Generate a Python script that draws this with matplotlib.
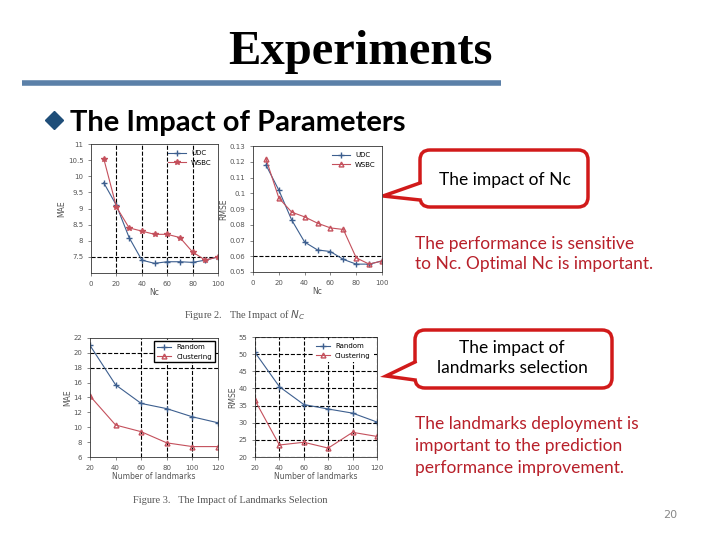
import numpy as np
import matplotlib.pyplot as plt
from matplotlib.patches import FancyBboxPatch, Polygon

# data
nc = [10, 20, 30, 40, 50, 60, 70, 80, 90, 100]
mae_udc = [9.8, 9.1, 8.1, 7.4, 7.3, 7.35, 7.35, 7.33, 7.4, 7.5]
mae_wsbc = [10.55, 9.05, 8.4, 8.3, 8.2, 8.2, 8.1, 7.65, 7.4, 7.5]
rmse_udc = [0.118, 0.102, 0.083, 0.069, 0.064, 0.063, 0.058, 0.055, 0.055, 0.057]
rmse_wsbc = [0.122, 0.097, 0.088, 0.085, 0.081, 0.078, 0.077, 0.059, 0.055, 0.057]

landmarks = [20, 40, 60, 80, 100, 120]
mae_random = [21.0, 15.7, 13.2, 12.5, 11.4, 10.6]
mae_cluster = [14.2, 10.3, 9.4, 7.9, 7.4, 7.4]
rmse_random = [50.5, 40.5, 35.3, 34.0, 32.8, 30.2]
rmse_cluster = [36.5, 23.5, 24.3, 22.6, 27.2, 26.0]

blue = '#3d5f8f'
red = '#c4505c'
gray = '#555555'
box_red = '#d11a1a'
txt_red = '#b8202a'

fig = plt.figure(figsize=(7.2, 5.4), dpi=100)

# overlay in pixel coordinates for the slide decorations
bg = fig.add_axes([0, 0, 1, 1])
bg.set_xlim(0, 720)
bg.set_ylim(540, 0)
bg.axis('off')

bg.text(360, 64, 'Experiments', ha='center', va='baseline', fontsize=35,
        fontweight='bold', family='Liberation Serif')
bg.plot([22, 501], [83, 83], color='#5b80a8', lw=4, solid_capstyle='butt')
bg.plot([54], [120], marker='D', markersize=9.5, color='#1f4e79')
bg.text(70, 131, 'The Impact of Parameters', ha='left', va='baseline',
        fontsize=21, fontweight='bold', family='Lato')


def callout(x0, y0, x1, y1, tip, base):
    box = FancyBboxPatch((x0, y0), x1 - x0, y1 - y0,
                         boxstyle='round,pad=0,rounding_size=10',
                         fc='white', ec=box_red, lw=2.5, zorder=3)
    bg.add_patch(box)
    tri = Polygon([(x0 + 3, base[0]), tip, (x0 + 3, base[1])], closed=True,
                  fc='white', ec='none', zorder=4)
    bg.add_patch(tri)
    bg.plot([x0, tip[0], x0], [base[0], tip[1], base[1]], color=box_red,
            lw=2.5, zorder=5, solid_joinstyle='miter')


callout(420, 150, 588, 207, (383, 196), (183, 200))
bg.text(505, 180, 'The impact of Nc', ha='center', va='center', fontsize=12.5,
        family='Lato', zorder=6)
bg.text(415, 254, 'The performance is sensitive\nto Nc. Optimal Nc is important.',
        ha='left', va='center', fontsize=12.5, family='Lato', color=txt_red,
        linespacing=1.3)

callout(415, 330, 612, 388, (386, 376), (362, 380))
bg.text(512, 358, 'The impact of\nlandmarks selection', ha='center', va='center',
        fontsize=12.5, family='Lato', zorder=6, linespacing=1.3)
bg.text(415, 446, 'The landmarks deployment is\nimportant to the prediction\n'
        'performance improvement.', ha='left', va='center', fontsize=12.5,
        family='Lato', color=txt_red, linespacing=1.45)

bg.text(670, 515, '20', ha='center', va='center', fontsize=8, color='#888888')

bg.text(245, 315, r'Figure 2.   The Impact of $N_C$', ha='center', va='center',
        fontsize=7.5, family='Liberation Serif', color=gray)
bg.text(230, 500, 'Figure 3.   The Impact of Landmarks Selection', ha='center',
        va='center', fontsize=7.5, family='Liberation Serif', color=gray)


def style(ax):
    ax.tick_params(labelsize=5, colors=gray, length=2, width=0.5)
    for s in ax.spines.values():
        s.set_linewidth(0.6)
        s.set_color('#333333')
    ax.xaxis.label.set_color(gray)
    ax.yaxis.label.set_color(gray)


dash = dict(color='black', ls='--', lw=0.8, zorder=0)

ax1 = fig.add_axes([0.1264, 0.4944, 0.1764, 0.2389])
ax1.plot(nc, mae_udc, color=blue, marker='+', ms=4, lw=0.8, label='UDC')
ax1.plot(nc, mae_wsbc, color=red, marker='*', ms=4, lw=0.8, label='WSBC')
ax1.set_xlim(0, 100)
ax1.set_ylim(7, 11)
ax1.set_xticks([0, 20, 40, 60, 80, 100])
ax1.set_yticks([7.5, 8, 8.5, 9, 9.5, 10, 10.5, 11])
ax1.set_yticklabels(['7.5', '8', '8.5', '9', '9.5', '10', '10.5', '11'])
for x in [20, 40, 60, 80]:
    ax1.axvline(x, **dash)
ax1.axhline(7.5, **dash)
ax1.set_xlabel('Nc', fontsize=5.5, labelpad=1)
ax1.set_ylabel('MAE', fontsize=5.5, labelpad=1)
ax1.legend(loc='upper right', fontsize=5, frameon=False, handlelength=2.5)
style(ax1)

ax2 = fig.add_axes([0.3514, 0.4963, 0.1792, 0.2333])
ax2.plot(nc, rmse_udc, color=blue, marker='+', ms=4, lw=0.8, label='UDC')
ax2.plot(nc, rmse_wsbc, color=red, marker='^', ms=3.5, mfc='none', lw=0.8,
         label='WSBC')
ax2.set_xlim(0, 100)
ax2.set_ylim(0.05, 0.13)
ax2.set_xticks([0, 20, 40, 60, 80, 100])
ax2.set_yticks(np.arange(0.05, 0.131, 0.01))
ax2.set_yticklabels(['0.05', '0.06', '0.07', '0.08', '0.09', '0.1', '0.11',
                     '0.12', '0.13'])
ax2.axhline(0.06, **dash)
ax2.set_xlabel('Nc', fontsize=5.5, labelpad=1)
ax2.set_ylabel('RMSE', fontsize=5.5, labelpad=1)
ax2.legend(loc='upper right', fontsize=5, frameon=False, handlelength=2.5)
style(ax2)

ax3 = fig.add_axes([0.125, 0.1537, 0.1778, 0.2204])
ax3.plot(landmarks, mae_random, color=blue, marker='+', ms=4, lw=0.8,
         label='Random')
ax3.plot(landmarks, mae_cluster, color=red, marker='^', ms=3.5, mfc='none',
         lw=0.8, label='Clustering')
ax3.set_xlim(20, 120)
ax3.set_ylim(6, 22)
ax3.set_xticks(landmarks)
ax3.set_yticks(np.arange(6, 23, 2))
for x in [60, 80, 100]:
    ax3.axvline(x, **dash)
for y in [18, 20]:
    ax3.axhline(y, **dash)
ax3.set_xlabel('Number of landmarks', fontsize=5.5, labelpad=1)
ax3.set_ylabel('MAE', fontsize=5.5, labelpad=1)
ax3.legend(loc='upper right', fontsize=5, framealpha=1, edgecolor='black',
           fancybox=False)
style(ax3)

ax4 = fig.add_axes([0.3542, 0.1537, 0.1694, 0.2222])
ax4.plot(landmarks, rmse_random, color=blue, marker='+', ms=4, lw=0.8,
         label='Random')
ax4.plot(landmarks, rmse_cluster, color=red, marker='^', ms=3.5, mfc='none',
         lw=0.8, label='Clustering')
ax4.set_xlim(20, 120)
ax4.set_ylim(20, 55)
ax4.set_xticks(landmarks)
ax4.set_yticks(np.arange(20, 56, 5))
ax4.grid(True, ls='--', color='black', lw=0.8)
ax4.set_axisbelow(True)
ax4.set_xlabel('Number of landmarks', fontsize=5.5, labelpad=1)
ax4.set_ylabel('RMSE', fontsize=5.5, labelpad=1)
ax4.legend(loc='upper right', fontsize=5, framealpha=1, edgecolor='none',
           fancybox=False)
style(ax4)

plt.savefig('out.png', dpi=100)
